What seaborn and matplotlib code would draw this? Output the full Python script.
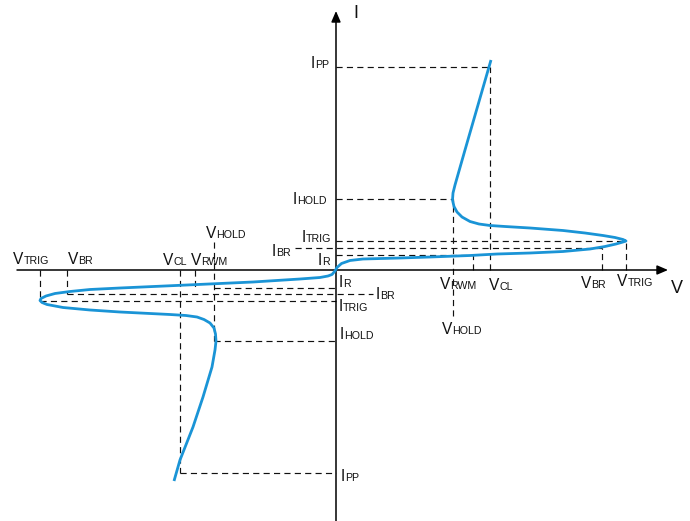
import pandas as pd
import matplotlib
matplotlib.use('Agg')
import matplotlib.pyplot as plt
import seaborn as sns

sns.set_style('white')
plt.rcParams['font.family'] = ['Liberation Sans', 'DejaVu Sans']

# I-V curve of a bidirectional TVS, origin at the axes crossing (V right, I up)
neg_v = [-162, -156, -143, -133, -124, -121, -120, -120.5, -122, -126, -132, -139, -150, -166, -216, -246,
         -273, -289, -294, -296, -295, -290, -281, -266, -246, -216, -149, -83, -36, -16, -8, -4, -1]
neg_i = [-211, -190, -157, -127, -97, -80, -71, -64, -58, -53, -49.5, -47, -45.5, -44.5, -42, -40,
         -37.5, -34.5, -32.5, -30.5, -28.5, -26, -23.5, -21.5, -19.5, -18, -15, -12, -9, -7.5, -6, -4.5, -1]
pos_v = [1, 5.5, 14, 27, 64, 94, 134, 161, 194, 227, 254, 269, 280, 287, 290,
         287, 279, 267, 249, 227, 194, 169, 154, 143, 134, 126, 121, 118, 116.5, 117, 119, 129, 142, 155]
pos_i = [2.5, 6.5, 9.5, 11, 12, 13, 14.5, 16, 17, 18.5, 21, 23.5, 26, 28, 29,
         30.5, 32.5, 34.5, 37, 39.5, 42, 43.5, 44.5, 46, 48.5, 53, 58, 63.5, 70, 77, 85, 120, 165, 210]

# characteristic points (positive side)
P_V_HOLD, P_V_R, P_V_CL, P_V_BR, P_V_TRIG = 117, 137, 154, 266, 290
P_I_R, P_I_BR, P_I_TRIG, P_I_HOLD, P_I_PP = 15.5, 22.5, 29, 71, 203
# characteristic points (negative side)
N_V_TRIG, N_V_BR, N_V_CL, N_V_RWM, N_V_HOLD = -296, -269, -156, -141, -122
N_I_R, N_I_BR, N_I_TRIG, N_I_HOLD, N_I_PP = -17.5, -24, -31, -70.5, -202.5

df = pd.DataFrame({'V': neg_v + pos_v, 'I': neg_i + pos_i})

fig = plt.figure(figsize=(6.9, 5.21), dpi=100)
ax = fig.add_axes([0, 0, 1, 1])
ax.set_xlim(-336, 354)
ax.set_ylim(-251, 270)
ax.set_axis_off()

# dashed guide lines: (x0, x1, y0, y1)
guides = [
    (0, P_V_CL, P_I_PP, P_I_PP), (P_V_CL, P_V_CL, 0, P_I_PP),
    (0, P_V_HOLD, P_I_HOLD, P_I_HOLD), (P_V_HOLD, P_V_HOLD, -46, P_I_HOLD),
    (0, P_V_TRIG, P_I_TRIG, P_I_TRIG), (P_V_TRIG, P_V_TRIG, 0, P_I_TRIG),
    (-41, P_V_BR, P_I_BR, P_I_BR), (P_V_BR, P_V_BR, 0, P_I_BR),
    (0, P_V_R, P_I_R, P_I_R), (P_V_R, P_V_R, 0, P_I_R),
    (N_V_TRIG, 0, N_I_TRIG, N_I_TRIG), (N_V_TRIG, N_V_TRIG, 0, N_I_TRIG),
    (N_V_BR, 37, N_I_BR, N_I_BR), (N_V_BR, N_V_BR, 0, N_I_BR),
    (N_V_CL, 0, N_I_PP, N_I_PP), (N_V_CL, N_V_CL, 0, N_I_PP),
    (N_V_HOLD, 0, N_I_R, N_I_R), (N_V_RWM, N_V_RWM, 0, N_I_R),
    (N_V_HOLD, 0, N_I_HOLD, N_I_HOLD), (N_V_HOLD, N_V_HOLD, 28, N_I_HOLD),
]
for x0, x1, y0, y1 in guides:
    ax.plot([x0, x1], [y0, y1], color='#111111', lw=0.85, ls=(0, (5.2, 3.6)), zorder=1)

# axes with arrows
arr = dict(arrowstyle='-|>,head_length=0.65,head_width=0.28', color='black', lw=1.1,
           mutation_scale=10, shrinkA=0, shrinkB=0)
ax.annotate('', xy=(332, 0), xytext=(-319, 0), arrowprops=arr, zorder=2)
ax.annotate('', xy=(0, 259), xytext=(0, -251), arrowprops=arr, zorder=2)

sns.lineplot(data=df, x='V', y='I', sort=False, estimator=None, color='#1A94D6',
             lw=2.0, ax=ax, zorder=3, solid_joinstyle='round', solid_capstyle='butt')
ax.set_axis_off()


def label(main, sub, x, y, size=11.2):
    t = ax.text(x, y, main, fontsize=size, va='baseline', ha='left', color='#111111')
    if sub:
        ax.annotate(sub, xy=(1, y), xycoords=(t, 'data'), fontsize=7.7,
                    va='baseline', ha='left', color='#111111')


labels = [
    ('I', 'PP', -25, 202), ('I', 'HOLD', -43, 65.5), ('I', 'TRIG', -34, 28),
    ('I', 'BR', -64, 14), ('I', 'R', -18, 5),
    ('V', 'RWM', 104, -19), ('V', 'CL', 153, -20), ('V', 'BR', 245, -17.5),
    ('V', 'TRIG', 281, -16), ('V', 'HOLD', 106, -64.5),
    ('I', 'R', 3, -17), ('I', 'BR', 40, -29), ('I', 'TRIG', 3, -41),
    ('I', 'HOLD', 4, -69), ('I', 'PP', 5, -211),
    ('V', 'HOLD', -130, 32), ('V', 'CL', -173, 5), ('V', 'RWM', -145, 5),
    ('V', 'TRIG', -323, 6), ('V', 'BR', -268, 6),
]
for m, s, x, y in labels:
    label(m, s, x, y)
label('I', '', 17, 252, size=13)
label('V', '', 335, -23, size=13)

fig.savefig('out.png', dpi=100)
